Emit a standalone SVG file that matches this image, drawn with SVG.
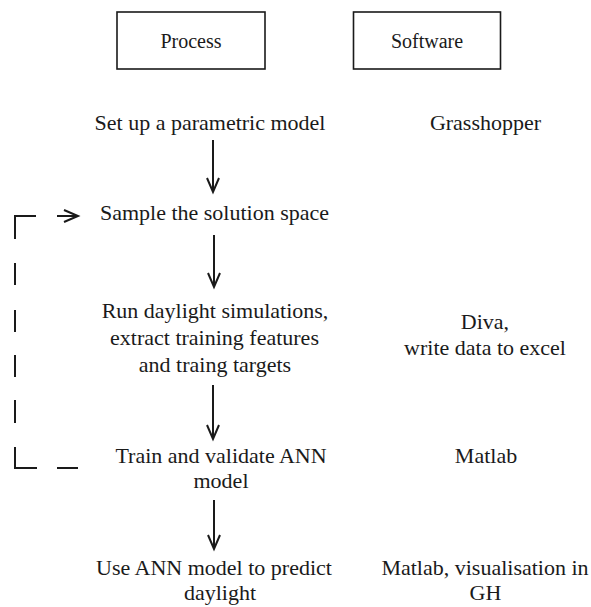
<svg xmlns="http://www.w3.org/2000/svg" width="591" height="607" viewBox="0 0 591 607">
  <style>
    text { font-family: "Liberation Serif", "Times New Roman", serif; fill: #1a1a1a; text-anchor: middle; }
    .h { font-size: 20px; }
    .b { font-size: 22px; }
    .box { fill: #ffffff; stroke: #1a1a1a; stroke-width: 1.6; }
    .conn { fill: none; stroke: #1a1a1a; stroke-width: 2; }
  </style>
  <defs>
    <marker id="arr" markerUnits="userSpaceOnUse" viewBox="-16 -8 18 16" refX="0" refY="0" markerWidth="18" markerHeight="16" orient="auto" overflow="visible">
      <path d="M -14 -6 L 0 0 L -14 6" fill="none" stroke="#1a1a1a" stroke-width="2"/>
    </marker>
  </defs>
  <rect width="591" height="607" fill="#ffffff"/>

  <g id="head-process">
    <rect class="box" x="117" y="12" width="148" height="57"/>
    <text class="h" x="191" y="48">Process</text>
  </g>
  <g id="head-software">
    <rect class="box" x="353.5" y="12" width="147" height="57"/>
    <text class="h" x="427" y="48">Software</text>
  </g>

  <g id="step1">
    <text class="b" x="210" y="130">Set up a parametric model</text>
  </g>
  <g id="sw1">
    <text class="b" x="485.5" y="130">Grasshopper</text>
  </g>
  <g id="step2">
    <text class="b" x="214.5" y="220">Sample the solution space</text>
  </g>
  <g id="step3">
    <text class="b" x="215" y="318">Run daylight simulations,</text>
    <text class="b" x="214.5" y="345">extract training features</text>
    <text class="b" x="215" y="372">and traing targets</text>
  </g>
  <g id="sw3">
    <text class="b" x="485" y="329">Diva,</text>
    <text class="b" x="485" y="355">write data to excel</text>
  </g>
  <g id="step4">
    <text class="b" x="221" y="463">Train and validate ANN</text>
    <text class="b" x="221" y="488">model</text>
  </g>
  <g id="sw4">
    <text class="b" x="486" y="463">Matlab</text>
  </g>
  <g id="step5">
    <text class="b" x="214" y="575">Use ANN model to predict</text>
    <text class="b" x="220" y="600">daylight</text>
  </g>
  <g id="sw5">
    <text class="b" x="485" y="575">Matlab, visualisation in</text>
    <text class="b" x="485.5" y="600">GH</text>
  </g>

  <g id="connectors">
    <line class="conn" x1="213" y1="140" x2="213" y2="192" marker-end="url(#arr)"/>
    <line class="conn" x1="214" y1="235" x2="214" y2="287" marker-end="url(#arr)"/>
    <line class="conn" x1="213" y1="385" x2="213" y2="439" marker-end="url(#arr)"/>
    <line class="conn" x1="214" y1="500" x2="214" y2="549" marker-end="url(#arr)"/>
    <g id="feedback">
      <polyline class="conn" points="36,216 15,216 15,239"/>
      <line class="conn" x1="15" y1="263" x2="15" y2="285"/>
      <line class="conn" x1="15" y1="310" x2="15" y2="332"/>
      <line class="conn" x1="15" y1="355" x2="15" y2="377"/>
      <line class="conn" x1="15" y1="400" x2="15" y2="423"/>
      <polyline class="conn" points="15,447 15,468 37,468"/>
      <line class="conn" x1="57" y1="468" x2="78" y2="468"/>
      <line class="conn" x1="57" y1="216" x2="78" y2="216" marker-end="url(#arr)"/>
    </g>
  </g>
</svg>
